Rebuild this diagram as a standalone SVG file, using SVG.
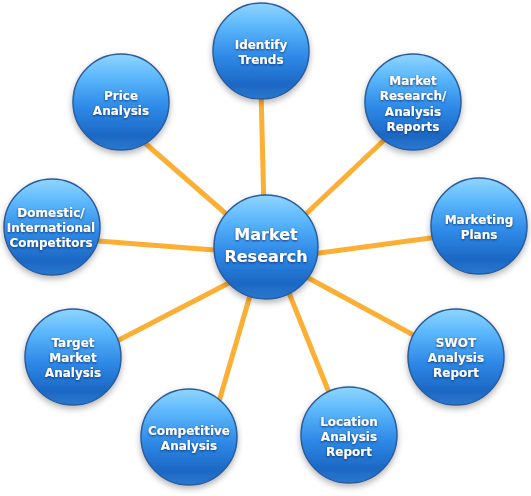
<svg xmlns="http://www.w3.org/2000/svg" width="531" height="496" viewBox="0 0 531 496">
<defs>
<linearGradient id="ball" x1="0" y1="0" x2="0" y2="1">
<stop offset="0" stop-color="#8fd6ff"/>
<stop offset="0.25" stop-color="#5ab6fb"/>
<stop offset="0.55" stop-color="#2f8ae8"/>
<stop offset="0.85" stop-color="#1c68c4"/>
<stop offset="1" stop-color="#2a78d0"/>
</linearGradient>
<filter id="shadow" x="-20%" y="-20%" width="140%" height="150%">
<feDropShadow dx="0" dy="3" stdDeviation="3" flood-color="#000" flood-opacity="0.3"/>
</filter>
<filter id="tshadow" x="-10%" y="-30%" width="120%" height="160%">
<feDropShadow dx="0" dy="1" stdDeviation="0.9" flood-color="#0a2f66" flood-opacity="0.9"/>
</filter>
</defs>
<style>
.ball{fill:url(#ball);stroke:#2b5c9c;stroke-width:1.5;filter:url(#shadow)}
.lbl{font-family:"DejaVu Sans",Verdana,sans-serif;font-weight:bold;font-size:12px;fill:#fff;text-anchor:middle;filter:url(#tshadow)}
.big{font-size:16px}
.conn line{stroke:#fbaf34;stroke-width:5;stroke-linecap:butt}
</style>
<rect width="531" height="496" fill="#fff"/>
<g id="connectors" class="conn">
<line x1="261" y1="90" x2="264" y2="210"/>
<line x1="400" y1="125" x2="290" y2="229"/>
<line x1="290" y1="257" x2="460" y2="234"/>
<line x1="290" y1="268" x2="430" y2="344"/>
<line x1="283" y1="278" x2="332" y2="400"/>
<line x1="256" y1="275" x2="218" y2="405"/>
<line x1="90" y1="355" x2="250" y2="272"/>
<line x1="60" y1="238" x2="240" y2="252"/>
<line x1="130" y1="130" x2="240" y2="226"/>
</g>
<g id="center">
<circle class="ball" cx="266" cy="247" r="52"/>
<text class="lbl big" x="266" y="240">Market</text>
<text class="lbl big" x="266" y="262">Research</text>
</g>
<g id="identify-trends">
<circle class="ball" cx="261" cy="51" r="48"/>
<text class="lbl" x="261" y="48.5">Identify</text>
<text class="lbl" x="261" y="63.5">Trends</text>
</g>
<g id="market-research-reports">
<circle class="ball" cx="413" cy="102" r="48"/>
<text class="lbl" x="413" y="84.5">Market</text>
<text class="lbl" x="413" y="100">Research/</text>
<text class="lbl" x="413" y="115.5">Analysis</text>
<text class="lbl" x="413" y="131">Reports</text>
</g>
<g id="marketing-plans">
<circle class="ball" cx="479" cy="226" r="48"/>
<text class="lbl" x="479" y="223.5">Marketing</text>
<text class="lbl" x="479" y="238.5">Plans</text>
</g>
<g id="swot">
<circle class="ball" cx="456" cy="357" r="48"/>
<text class="lbl" x="456" y="347">SWOT</text>
<text class="lbl" x="456" y="362">Analysis</text>
<text class="lbl" x="456" y="377">Report</text>
</g>
<g id="location">
<circle class="ball" cx="349" cy="435" r="48"/>
<text class="lbl" x="349" y="426">Location</text>
<text class="lbl" x="349" y="441">Analysis</text>
<text class="lbl" x="349" y="456">Report</text>
</g>
<g id="competitive">
<circle class="ball" cx="189" cy="437" r="48"/>
<text class="lbl" x="189" y="435">Competitive</text>
<text class="lbl" x="189" y="450">Analysis</text>
</g>
<g id="target-market">
<circle class="ball" cx="73" cy="357" r="48"/>
<text class="lbl" x="73" y="347">Target</text>
<text class="lbl" x="73" y="362">Market</text>
<text class="lbl" x="73" y="377">Analysis</text>
</g>
<g id="domestic">
<circle class="ball" cx="52" cy="227" r="48"/>
<text class="lbl" x="51" y="217">Domestic/</text>
<text class="lbl" x="51" y="232">International</text>
<text class="lbl" x="51" y="247">Competitors</text>
</g>
<g id="price">
<circle class="ball" cx="121" cy="102" r="48"/>
<text class="lbl" x="121" y="99.5">Price</text>
<text class="lbl" x="121" y="114.5">Analysis</text>
</g>
</svg>
